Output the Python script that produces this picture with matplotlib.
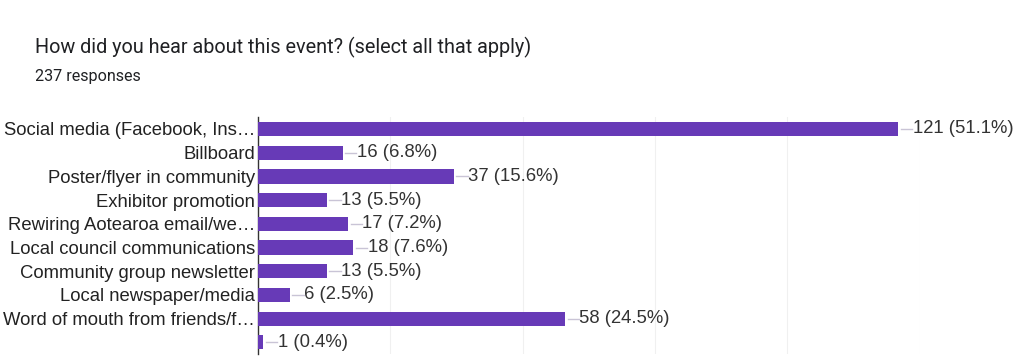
import matplotlib.pyplot as plt
import numpy as np

# survey answers, top to bottom (last option has no label)
categories = [
    "Social media (Facebook, Ins\u2026",
    "Billboard",
    "Poster/flyer in community",
    "Exhibitor promotion",
    "Rewiring Aotearoa email/we\u2026",
    "Local council communications",
    "Community group newsletter",
    "Local newspaper/media",
    "Word of mouth from friends/f\u2026",
    "",
]
counts = [121, 16, 37, 13, 17, 18, 13, 6, 58, 1]
percents = [51.1, 6.8, 15.6, 5.5, 7.2, 7.6, 5.5, 2.5, 24.5, 0.4]
grid_ticks = [25, 50, 75, 100, 125]

PURPLE = "#673ab7"

fig = plt.figure(figsize=(10.24, 3.56), dpi=100)
fig.patch.set_facecolor("white")
ax = fig.add_axes([0.252, 0.005, 0.646, 0.666])

y = np.arange(len(categories))
ax.barh(y, counts, height=0.6, color=PURPLE, zorder=3)

for yi, c, p in zip(y, counts, percents):
    ax.plot([c + 0.5, c + 2.6], [yi, yi], color="#c9c4d6", lw=1, zorder=3)
    ax.text(c + 2.7, yi, f"{c} ({p}%)", va="center", ha="left",
            fontsize=13.3, color="#333333", family="Liberation Sans")

for g in grid_ticks:
    ax.axvline(g, color="#f0f0f0", lw=0.8, zorder=0)

ax.set_xlim(0, 125)
ax.set_ylim(len(categories) - 0.5, -0.5)
ax.set_yticks(y)
ax.set_yticklabels(categories, fontsize=13.3, color="#222222", family="Liberation Sans")
ax.tick_params(axis="y", length=0, pad=2)
ax.set_xticks([])
for side in ("top", "right", "bottom"):
    ax.spines[side].set_visible(False)
ax.spines["left"].set_color("#333333")
ax.spines["left"].set_linewidth(1)

fig.text(0.034, 0.868, "How did you hear about this event? (select all that apply)",
         fontsize=14.3, color="#202124", family="Roboto", va="center")
fig.text(0.034, 0.786, "237 responses", fontsize=11.6, color="#202124",
         family="Roboto", va="center")

fig.savefig("out.png", dpi=100)
